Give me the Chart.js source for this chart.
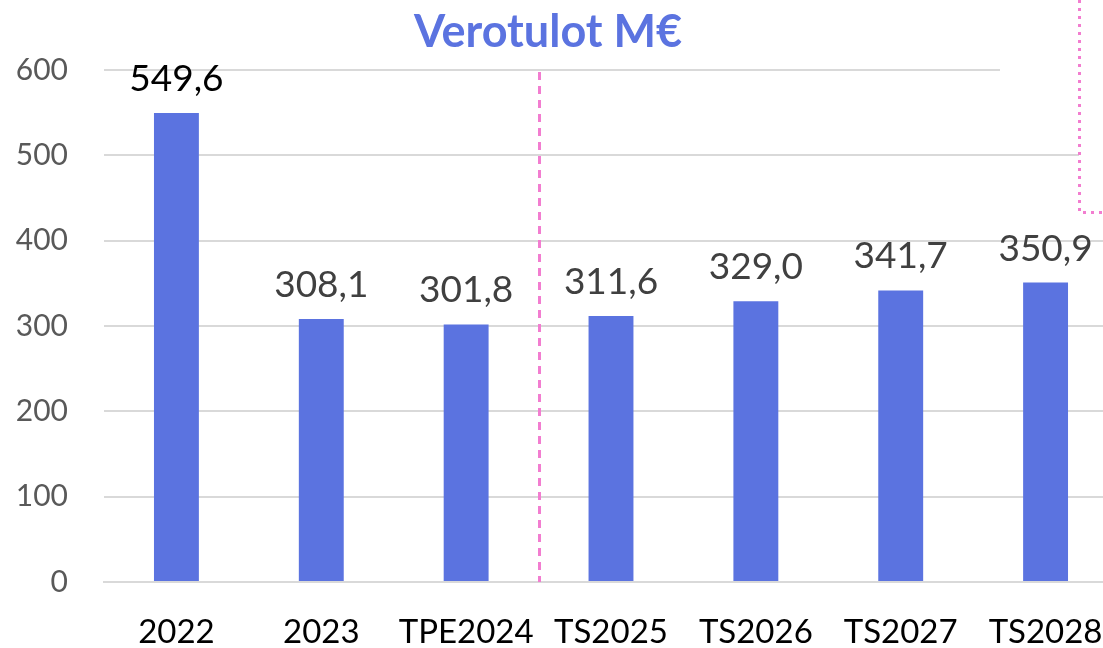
<!DOCTYPE html>
<html>
<head>
    <title>Verotulot M€</title>
    <script src="https://cdn.jsdelivr.net/npm/chart.js@4/dist/chart.umd.min.js"></script>
    <style>
        body { margin: 0; overflow: hidden; background: #fff; }
        #wrap { width: 1118px; height: 648px; }
    </style>
</head>
<body>
    <div id="wrap"><canvas id="myChart" width="1118" height="648"></canvas></div>

    <script>
        var labels = ['2022', '2023', 'TPE2024', 'TS2025', 'TS2026', 'TS2027', 'TS2028'];
        var values = [549.6, 308.1, 301.8, 311.6, 329.0, 341.7, 350.9];
        var yTicks = [0, 100, 200, 300, 400, 500, 600];
        var title = 'Verotulot M€';

        var blue = 'rgb(91, 115, 224)';
        var pink = 'rgb(242, 125, 208)';

        function fmt(v) {
            return v.toFixed(1).replace('.', ',');
        }

        // value labels above the bars + title (centred on the visible page)
        var valueLabels = {
            id: 'valueLabels',
            afterDatasetsDraw: function(chart) {
                var ctx = chart.ctx;
                var meta = chart.getDatasetMeta(0);
                ctx.save();
                ctx.font = '37px Lato';
                ctx.textAlign = 'center';
                ctx.textBaseline = 'middle';
                meta.data.forEach(function(bar, i) {
                    ctx.fillStyle = i === 0 ? '#000000' : '#404040';
                    ctx.fillText(fmt(values[i]), bar.x, bar.y - 34);
                });
                ctx.font = 'bold 45px Lato';
                ctx.fillStyle = blue;
                ctx.fillText(title, 548, 32);
                ctx.restore();
            }
        };

        // dashed separator between actuals and forecasts + the boxed corner
        var extras = {
            id: 'extras',
            beforeDatasetsDraw: function(chart) {
                var ctx = chart.ctx;
                var x = chart.scales.x;
                var area = chart.chartArea;
                ctx.save();
                // white patches over the gridlines (text boxes in the original)
                ctx.fillStyle = '#ffffff';
                ctx.fillRect(1000, area.top - 4, 79, 8);
                ctx.fillRect(1079, 0, 60, 212);

                var sx = Math.round((x.getPixelForValue(2) + x.getPixelForValue(3)) / 2) + 0.5;
                ctx.strokeStyle = pink;
                ctx.lineWidth = 3;
                ctx.setLineDash([8, 6]);
                ctx.beginPath();
                ctx.moveTo(sx, area.top + 2);
                ctx.lineTo(sx, area.bottom);
                ctx.stroke();

                ctx.setLineDash([3, 5]);
                ctx.beginPath();
                ctx.moveTo(1079.5, 0);
                ctx.lineTo(1079.5, 212.5);
                ctx.lineTo(1110, 212.5);
                ctx.stroke();
                ctx.restore();
            }
        };

        var ctx = document.getElementById('myChart').getContext('2d');
        var chart = new Chart(ctx, {
            type: 'bar',
            data: {
                labels: labels,
                datasets: [{
                    data: values,
                    backgroundColor: blue,
                    barPercentage: 0.31,
                    categoryPercentage: 1.0
                }]
            },
            options: {
                responsive: false,
                animation: false,
                layout: { padding: { left: 0, right: 0, top: 70, bottom: 0 } },
                plugins: {
                    legend: { display: false },
                    tooltip: { enabled: false },
                    title: { display: false }
                },
                scales: {
                    x: {
                        grid: { display: false, drawTicks: false },
                        border: { display: true, color: '#d9d9d9', width: 2 },
                        ticks: {
                            color: '#000000',
                            font: { family: 'Lato', size: 33 },
                            padding: 31,
                            maxRotation: 0,
                            autoSkip: false
                        },
                        afterFit: function(s) {
                            s.height = 66;
                            s.paddingLeft = 0;
                            s.paddingRight = 0;
                        }
                    },
                    y: {
                        min: 0,
                        max: 600,
                        afterBuildTicks: function(s) {
                            s.ticks = yTicks.map(function(v) { return { value: v }; });
                        },
                        grid: { color: '#d9d9d9', lineWidth: 2, drawTicks: false },
                        border: { display: false },
                        ticks: {
                            color: '#595959',
                            font: { family: 'Lato', size: 30 },
                            padding: 36
                        },
                        afterFit: function(s) {
                            s.width = 104;
                            s.paddingTop = 0;
                            s.paddingBottom = 0;
                        }
                    }
                }
            },
            plugins: [extras, valueLabels]
        });
    </script>
</body>
</html>
